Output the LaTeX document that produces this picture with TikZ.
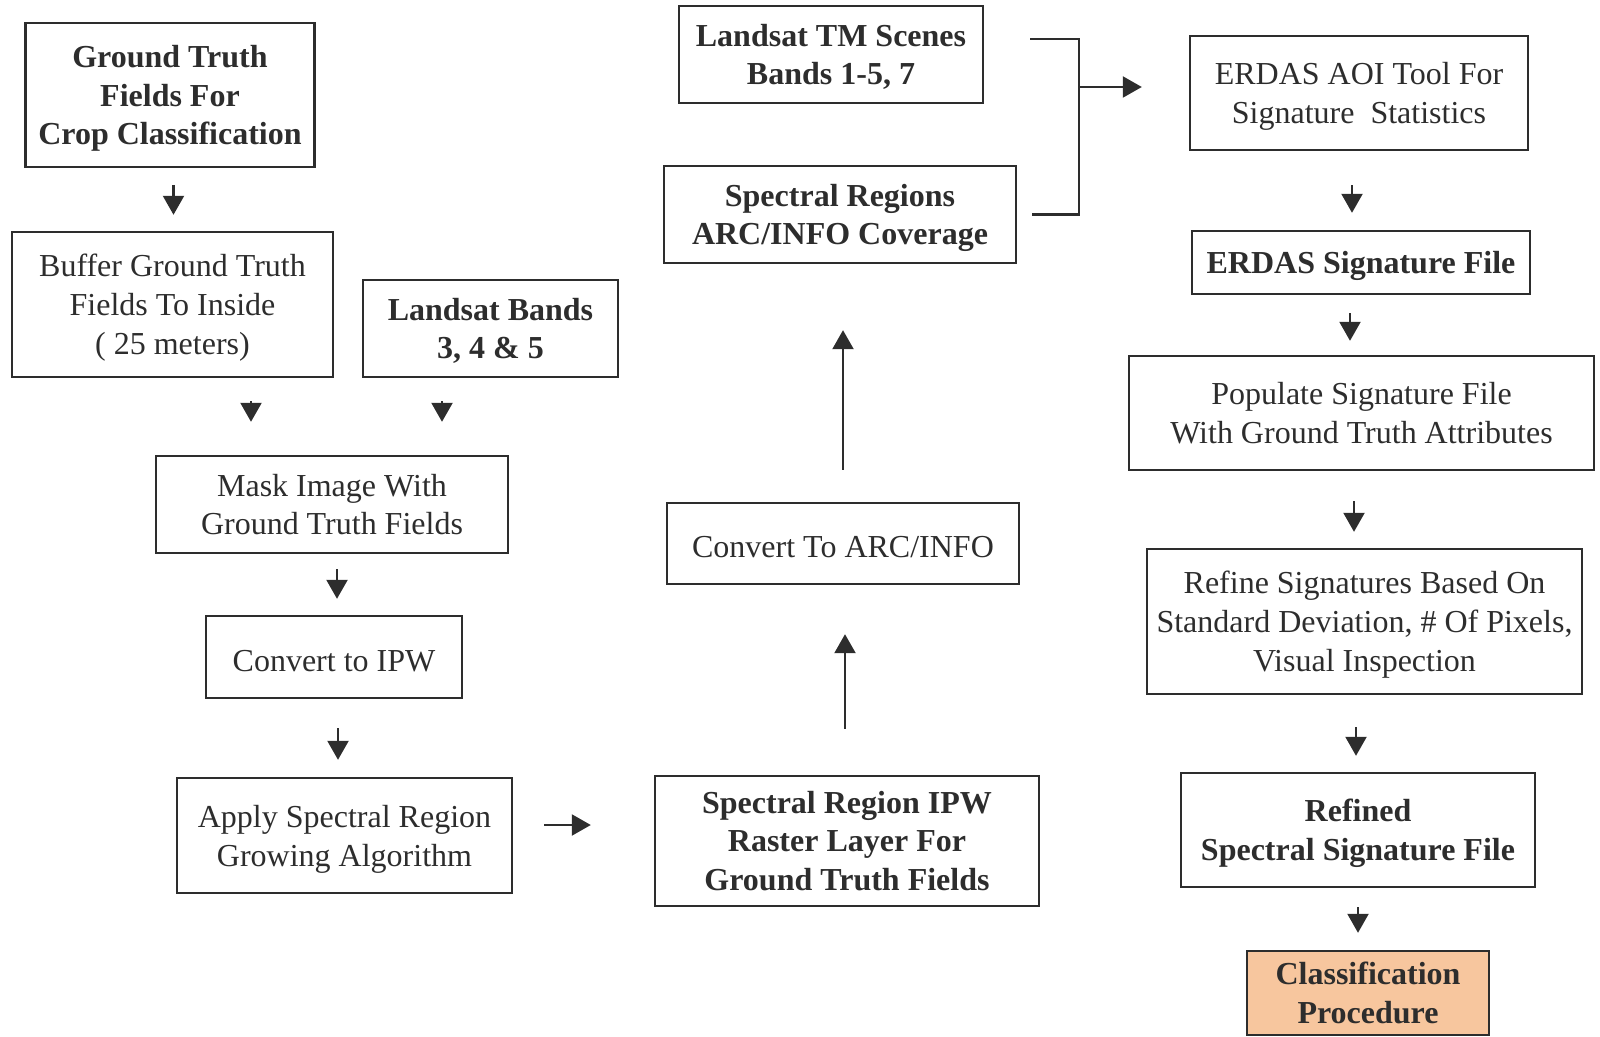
\documentclass[tikz,border=0pt]{standalone}
\usepackage{fontspec}
\setmainfont{Liberation Serif}
\usepackage{tikz}
\usetikzlibrary{arrows.meta}
\definecolor{peach}{RGB}{247,198,158}
\definecolor{ink}{RGB}{45,45,45}

\begin{document}
\begin{tikzpicture}[x=0.5pt,y=-0.5pt,
    box/.style={draw=ink,line width=1.2pt,text=ink,align=center,inner sep=0pt,
        font=\fontsize{16}{19.4}\selectfont,execute at begin node={\rule{0pt}{14.5pt}}},
    bbox/.style={box,font=\fontsize{16}{19.4}\selectfont\bfseries},
    dn/.style={text depth=-2pt},
    arr/.style={-{Triangle[length=9.5pt,width=10.5pt]},draw=ink,line width=1.1pt},
    line/.style={draw=ink,line width=1.1pt}]
\useasboundingbox (0,0) rectangle (1600,1037);
\node[bbox,dn,minimum width=144.5pt,minimum height=71.75pt] (gtf) at (170,95) {Ground Truth\\Fields For\\Crop Classification};
\node[box,dn,minimum width=160.5pt,minimum height=72.5pt] (buf) at (172.5,304.5) {Buffer Ground Truth\\Fields To Inside\\( 25 meters)};
\node[bbox,dn,minimum width=127.5pt,minimum height=48.5pt] (lb) at (490.5,328.5) {Landsat Bands\\3, 4 \& 5};
\node[box,minimum width=176pt,minimum height=48.5pt] (mask) at (332,504.5) {Mask Image With\\Ground Truth Fields};
\node[box,minimum width=128pt,minimum height=41pt] (ipw) at (334,657) {Convert to IPW};
\node[box,dn,minimum width=167.5pt,minimum height=57.5pt] (grow) at (344.5,835.5) {Apply Spectral Region\\Growing Algorithm};
\node[bbox,minimum width=192pt,minimum height=65pt] (srl) at (847,841) {Spectral Region IPW\\Raster Layer For\\Ground Truth Fields};
\node[box,minimum width=176pt,minimum height=40.5pt] (arc) at (843,543.5) {Convert To ARC/INFO};
\node[bbox,dn,minimum width=176pt,minimum height=48.5pt] (cov) at (840,214.5) {Spectral Regions\\ARC/INFO Coverage};
\node[bbox,dn,minimum width=152pt,minimum height=48.5pt] (tm) at (831,54.5) {Landsat TM Scenes\\Bands 1-5, 7};
\node[box,dn,minimum width=169pt,minimum height=57pt] (aoi) at (1359,93) {ERDAS AOI Tool For\\Signature\ \ Statistics};
\node[bbox,minimum width=169pt,minimum height=31.5pt] (sig) at (1361,262.5) {ERDAS Signature File};
\node[box,minimum width=232.5pt,minimum height=57pt] (pop) at (1361.5,413) {Populate Signature File\\With Ground Truth Attributes};
\node[box,dn,minimum width=217.5pt,minimum height=72.5pt] (ref) at (1364.5,621.5) {Refine Signatures Based On\\Standard Deviation, \# Of Pixels,\\Visual Inspection};
\node[bbox,dn,minimum width=177pt,minimum height=57pt] (rsf) at (1358,830) {Refined\\Spectral Signature File};
\node[bbox,fill=peach,minimum width=121pt,minimum height=42pt] (cls) at (1368,993) {Classification\\Procedure};

\draw[arr,shorten <=8.5pt,shorten >=8pt] ([xshift=1.75pt]gtf.south) -- ([xshift=0.5pt]buf.north);
\draw[arr,shorten <=11.5pt,shorten >=16.5pt] ([xshift=39.25pt]buf.south) -- ([xshift=-40.5pt]mask.north);
\draw[arr,shorten <=11.5pt,shorten >=16.5pt] ([xshift=-24.25pt]lb.south) -- ([xshift=55pt]mask.north);
\draw[arr,shorten <=7.5pt,shorten >=8pt] ([xshift=2.5pt]mask.south) -- ([xshift=1.5pt]ipw.north);
\draw[arr,shorten <=14.5pt,shorten >=8.5pt] ([xshift=2pt]ipw.south) -- ([xshift=-3.25pt]grow.north);
\draw[arr,shorten <=15.5pt,shorten >=31.5pt] ([yshift=5.25pt]grow.east) -- ([yshift=5.25pt]grow.east -| srl.west);
\draw[arr,shorten <=23pt,shorten >=24.5pt] ([xshift=-1pt]srl.north) -- ([xshift=1pt]arc.south);
\draw[arr,shorten <=16pt,shorten >=33pt] (arc.north) -- ([xshift=1.5pt]cov.south);

\coordinate (jn) at (1079,87);
\draw[line] ([xshift=23pt,yshift=7.75pt]tm.east) -| (jn) |- ([xshift=7.5pt]cov.east);
\draw[arr,shorten >=23.5pt] (jn) -- (jn -| aoi.west);

\draw[arr,shorten <=17pt,shorten >=8.5pt] ([xshift=-3.5pt]aoi.south) -- ([xshift=-4.5pt]sig.north);
\draw[arr,shorten <=9pt,shorten >=7pt] ([xshift=-5.5pt]sig.south) -- ([xshift=-5.75pt]pop.north);
\draw[arr,shorten <=15pt,shorten >=8pt] ([xshift=-3.75pt]pop.south) -- ([xshift=-5.25pt]ref.north);
\draw[arr,shorten <=16pt,shorten >=8pt] ([xshift=-4.25pt]ref.south) -- ([xshift=-1pt]rsf.north);
\draw[arr,shorten <=9.5pt,shorten >=8.5pt] (rsf.south) -- ([xshift=-5pt]cls.north);
\end{tikzpicture}
\end{document}
